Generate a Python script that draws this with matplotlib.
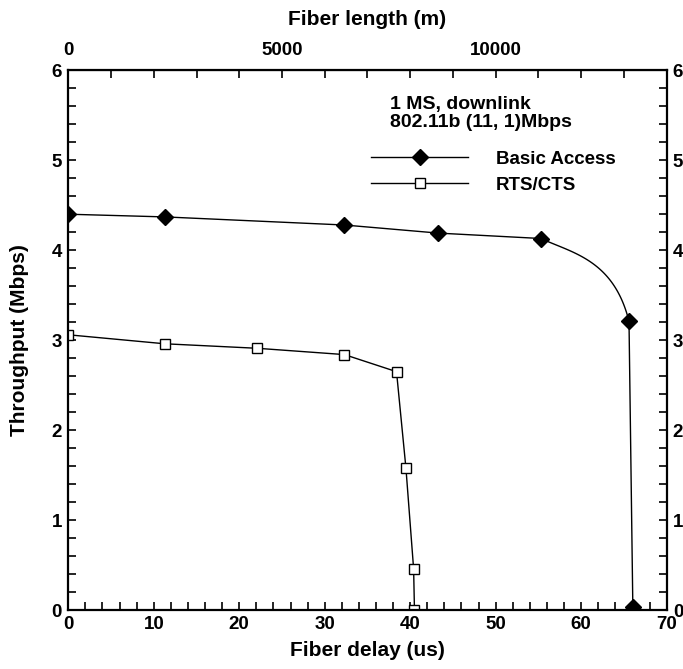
import numpy as np
import matplotlib
matplotlib.use("Agg")
import matplotlib.pyplot as plt
from matplotlib.ticker import MultipleLocator, FixedLocator

plt.rcParams['font.family'] = ['Liberation Sans', 'DejaVu Sans']
plt.rcParams['font.weight'] = 'bold'

# values
basic_delay = [0, 11.3, 32.3, 43.3, 55.3, 65.6, 66.05]
basic_tput = [4.40, 4.37, 4.28, 4.19, 4.13, 3.21, 0.03]
rts_delay = [0, 11.3, 22.1, 32.3, 38.4, 39.5, 40.4, 40.5]
rts_tput = [3.06, 2.96, 2.91, 2.84, 2.65, 1.58, 0.46, 0.0]
m_per_us = 200.0   # 14000 m over the 70 us axis
length_ticks = [0, 5000, 10000]


def rounded_path(xs, ys, sx, sy, bent=(), n=60):
    # straight segments, except the ones listed in `bent`, which are drawn
    # as Catmull-Rom pieces (worked out in screen units)
    p = np.column_stack([np.asarray(xs) * sx, np.asarray(ys) * sy])
    out = [p[:1]]
    for k in range(len(p) - 1):
        p1, p2 = p[k], p[k + 1]
        if k in bent:
            p0 = p[k - 1] if k > 0 else p1
            p3 = p[k + 2] if k + 2 < len(p) else p2
            m1 = 0.5 * (p2 - p0)
            m2 = 0.5 * (p3 - p1)
            t = np.linspace(0, 1, n)[1:, None]
            seg = ((2 * t ** 3 - 3 * t ** 2 + 1) * p1 + (t ** 3 - 2 * t ** 2 + t) * m1
                   + (-2 * t ** 3 + 3 * t ** 2) * p2 + (t ** 3 - t ** 2) * m2)
        else:
            seg = p2[None, :]
        out.append(seg)
    out = np.vstack(out)
    return out[:, 0] / sx, out[:, 1] / sy


fig = plt.figure(figsize=(6.83, 6.69), dpi=100)
ax = fig.add_axes([0.1, 0.088, 0.876, 0.807])

ax.set_xlim(0, 70)
ax.set_ylim(0, 6)

# screen size of one data unit
sx = 0.876 * 683 / 70
sy = 0.807 * 669 / 6
cx, cy = rounded_path(basic_delay, basic_tput, sx, sy, bent=(4,))
ax.plot(cx, cy, color='black', lw=1.0)
ax.plot(basic_delay, basic_tput, ls='none', marker='D', ms=8.5, color='black')

ax.plot(rts_delay, rts_tput, color='black', lw=1.0, marker='s', ms=7,
        mfc='white', mec='black', mew=1.0)

# legend proxies
h1, = ax.plot([], [], color='black', lw=1.0, marker='D', ms=8.5)
h2, = ax.plot([], [], color='black', lw=1.0, marker='s', ms=7, mfc='white', mew=1.0)
ax.legend([h1, h2], ['Basic Access', 'RTS/CTS'], loc='upper left',
          bbox_to_anchor=(0.49, 0.868), frameon=False, handlelength=5.2,
          handletextpad=1.45, labelspacing=0.45, borderpad=0,
          prop={'size': 13.5, 'weight': 'bold'})

ax.text(0.537, 0.953, '1 MS, downlink\n802.11b (11, 1)Mbps', transform=ax.transAxes,
        ha='left', va='top', fontsize=14, fontweight='bold', linespacing=1.1)

ax.xaxis.set_major_locator(MultipleLocator(10))
ax.xaxis.set_minor_locator(MultipleLocator(2))
ax.yaxis.set_major_locator(MultipleLocator(1))
ax.yaxis.set_minor_locator(MultipleLocator(0.2))
ax.tick_params(which='both', direction='in', top=False, right=True, length=6, width=1.2,
               labelsize=13.5, labelright=True)
ax.tick_params(axis='y', pad=4.5)
ax.tick_params(axis='x', pad=4)
for s in ax.spines.values():
    s.set_linewidth(1.6)

top = ax.secondary_xaxis('top', functions=(lambda d: d * m_per_us, lambda m: m / m_per_us))
top.xaxis.set_major_locator(FixedLocator(length_ticks))
top.xaxis.set_minor_locator(MultipleLocator(1000))
top.tick_params(which='both', direction='in', length=6, width=1.2, labelsize=13.5, pad=8)
top.set_xlabel('Fiber length (m)', fontsize=15, fontweight='bold', labelpad=12)

ax.set_xlabel('Fiber delay (us)', fontsize=15, fontweight='bold', labelpad=6)
ax.set_ylabel('Throughput (Mbps)', fontsize=15, fontweight='bold', labelpad=16)

fig.savefig('out.png', dpi=100)
